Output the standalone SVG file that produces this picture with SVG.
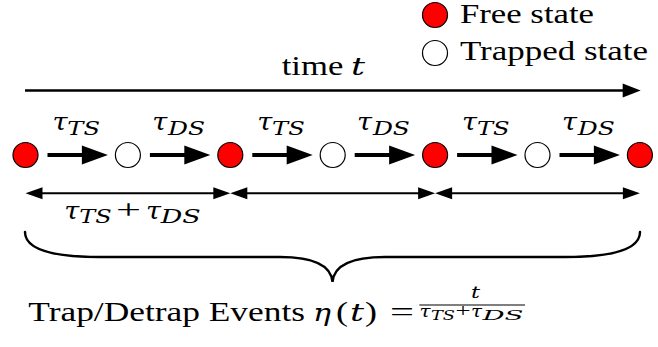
<svg xmlns="http://www.w3.org/2000/svg" width="658" height="347" viewBox="0 0 658 347">
  <style>
    .free { fill: #ff0000; stroke: #000; stroke-width: 1.2; }
    .trapped { fill: #fff; stroke: #000; stroke-width: 1.2; }
    .txt { font-family: "Liberation Serif", "Times New Roman", serif; font-size: 27px; fill: #000; }
    .it { font-family: "DejaVu Serif", serif; font-style: italic; font-size: 24px; fill: #000; }
    .sub { font-family: "DejaVu Serif", serif; font-size: 18px; font-style: italic; fill: #000; }
    .small { font-family: "Liberation Serif", "Times New Roman", serif; font-size: 19px; fill: #000; }
    .smallit { font-family: "DejaVu Serif", serif; font-size: 16px; font-style: italic; fill: #000; }
    .smallsub { font-family: "DejaVu Serif", serif; font-size: 12px; font-style: italic; fill: #000; }
    .step { stroke: #000; stroke-width: 4; fill: none; marker-end: url(#bigHead); }
    .axis { stroke: #000; stroke-width: 2.5; fill: none; marker-end: url(#axisHead); }
    .span { stroke: #000; stroke-width: 2; fill: none; marker-start: url(#spanHead); marker-end: url(#spanHead); }
    .brace { stroke: #000; stroke-width: 2.5; fill: none; stroke-linecap: round; }
  </style>
  <defs>
    <marker id="bigHead" markerUnits="userSpaceOnUse" markerWidth="26" markerHeight="19" refX="16" refY="9.5" orient="auto" overflow="visible">
      <path d="M0,0 L26,9.5 L0,19 Z" fill="#000"/>
    </marker>
    <marker id="axisHead" markerUnits="userSpaceOnUse" markerWidth="18" markerHeight="14" refX="10" refY="7" orient="auto" overflow="visible">
      <path d="M0,0 L18,7 L0,14 Z" fill="#000"/>
    </marker>
    <marker id="spanHead" markerUnits="userSpaceOnUse" markerWidth="17" markerHeight="12" refX="9" refY="6" orient="auto-start-reverse" overflow="visible">
      <path d="M0,0 L17,6 L0,12 Z" fill="#000"/>
    </marker>
  </defs>

  <!-- legend -->
  <g id="legend-free">
    <circle class="free" cx="435" cy="15" r="12.5"/>
    <text class="txt" x="460" y="22.7" textLength="134" lengthAdjust="spacingAndGlyphs">Free state</text>
  </g>
  <g id="legend-trapped">
    <circle class="trapped" cx="435" cy="53" r="12.5"/>
    <text class="txt" x="460" y="60" textLength="188" lengthAdjust="spacingAndGlyphs">Trapped state</text>
  </g>

  <!-- time axis label -->
  <g id="time-label">
    <text class="txt" x="281.7" y="75" textLength="61.6" lengthAdjust="spacingAndGlyphs">time</text>
    <text class="it" x="351" y="75" textLength="14" lengthAdjust="spacingAndGlyphs">t</text>
  </g>

  <!-- connectors -->
  <g id="connectors">
    <line class="axis" x1="25" y1="90.5" x2="632.7" y2="90.5"/>

    <line class="step" x1="47.5" y1="155" x2="97.9" y2="155"/>
    <line class="step" x1="149.9" y1="155" x2="200.3" y2="155"/>
    <line class="step" x1="252.3" y1="155" x2="302.7" y2="155"/>
    <line class="step" x1="354.7" y1="155" x2="405.1" y2="155"/>
    <line class="step" x1="457.1" y1="155" x2="507.5" y2="155"/>
    <line class="step" x1="559.5" y1="155" x2="609.9" y2="155"/>

    <line class="span" x1="33.5" y1="193.3" x2="222.3" y2="193.3"/>
    <line class="span" x1="238.3" y1="193.3" x2="427.1" y2="193.3"/>
    <line class="span" x1="443.1" y1="193.3" x2="631.9" y2="193.3"/>

    <path class="brace" d="M25,232 C25,249 52,257 100,257 L280,257 C312,257 331,264 332.5,282 C334,264 353,257 385,257 L565,257 C613,257 640,249 640,232"/>
  </g>

  <!-- states -->
  <g id="s0"><circle class="free" cx="25.5" cy="155" r="12.5"/></g>
  <g id="s1"><circle class="trapped" cx="127.9" cy="155" r="12.5"/></g>
  <g id="s2"><circle class="free" cx="230.3" cy="155" r="12.5"/></g>
  <g id="s3"><circle class="trapped" cx="332.7" cy="155" r="12.5"/></g>
  <g id="s4"><circle class="free" cx="435.1" cy="155" r="12.5"/></g>
  <g id="s5"><circle class="trapped" cx="537.5" cy="155" r="12.5"/></g>
  <g id="s6"><circle class="free" cx="639.9" cy="155" r="12.5"/></g>

  <!-- transition time labels -->
  <g id="lbl-ts-1"><text class="it" x="52.5" y="129.5" textLength="15" lengthAdjust="spacingAndGlyphs">τ</text><text class="sub" x="67.3" y="135" textLength="32.7" lengthAdjust="spacingAndGlyphs">TS</text></g>
  <g id="lbl-ds-1"><text class="it" x="152.3" y="129.5" textLength="15" lengthAdjust="spacingAndGlyphs">τ</text><text class="sub" x="168.1" y="135" textLength="37" lengthAdjust="spacingAndGlyphs">DS</text></g>
  <g id="lbl-ts-2"><text class="it" x="257.3" y="129.5" textLength="15" lengthAdjust="spacingAndGlyphs">τ</text><text class="sub" x="272.1" y="135" textLength="32.7" lengthAdjust="spacingAndGlyphs">TS</text></g>
  <g id="lbl-ds-2"><text class="it" x="357.1" y="129.5" textLength="15" lengthAdjust="spacingAndGlyphs">τ</text><text class="sub" x="372.9" y="135" textLength="37" lengthAdjust="spacingAndGlyphs">DS</text></g>
  <g id="lbl-ts-3"><text class="it" x="462.1" y="129.5" textLength="15" lengthAdjust="spacingAndGlyphs">τ</text><text class="sub" x="476.9" y="135" textLength="32.7" lengthAdjust="spacingAndGlyphs">TS</text></g>
  <g id="lbl-ds-3"><text class="it" x="561.9" y="129.5" textLength="15" lengthAdjust="spacingAndGlyphs">τ</text><text class="sub" x="577.7" y="135" textLength="37" lengthAdjust="spacingAndGlyphs">DS</text></g>

  <!-- period label -->
  <g id="lbl-period">
    <text class="it" x="64.3" y="218.5" textLength="15" lengthAdjust="spacingAndGlyphs">τ</text>
    <text class="sub" x="79.3" y="223.3" textLength="32.4" lengthAdjust="spacingAndGlyphs">TS</text>
    <text class="txt" x="116" y="218.5" textLength="25" lengthAdjust="spacingAndGlyphs">+</text>
    <text class="it" x="146" y="218.5" textLength="15" lengthAdjust="spacingAndGlyphs">τ</text>
    <text class="sub" x="160.7" y="223.3" textLength="40" lengthAdjust="spacingAndGlyphs">DS</text>
  </g>

  <!-- event count formula -->
  <g id="lbl-events">
    <text class="txt" x="28.3" y="320.7" textLength="276.7" lengthAdjust="spacingAndGlyphs">Trap/Detrap Events</text>
    <text class="it" x="313" y="320.7" textLength="18" lengthAdjust="spacingAndGlyphs">η</text>
    <text class="txt" x="336" y="320.7" textLength="12" lengthAdjust="spacingAndGlyphs">(</text>
    <text class="it" x="350" y="320.7" textLength="14" lengthAdjust="spacingAndGlyphs">t</text>
    <text class="txt" x="365" y="320.7" textLength="12" lengthAdjust="spacingAndGlyphs">)</text>
    <text class="txt" x="390" y="320.7" textLength="24" lengthAdjust="spacingAndGlyphs">=</text>
    <text class="smallit" x="471" y="298" textLength="9" lengthAdjust="spacingAndGlyphs">t</text>
    <line x1="419.3" y1="305" x2="525" y2="305" stroke="#000" stroke-width="1.2"/>
    <text class="smallit" x="419.5" y="317" textLength="11" lengthAdjust="spacingAndGlyphs">τ</text>
    <text class="smallsub" x="431" y="320" textLength="24" lengthAdjust="spacingAndGlyphs">TS</text>
    <text class="small" x="455.5" y="317" textLength="15" lengthAdjust="spacingAndGlyphs">+</text>
    <text class="smallit" x="471" y="317" textLength="11" lengthAdjust="spacingAndGlyphs">τ</text>
    <text class="smallsub" x="482.5" y="320" textLength="41" lengthAdjust="spacingAndGlyphs">DS</text>
  </g>
</svg>
